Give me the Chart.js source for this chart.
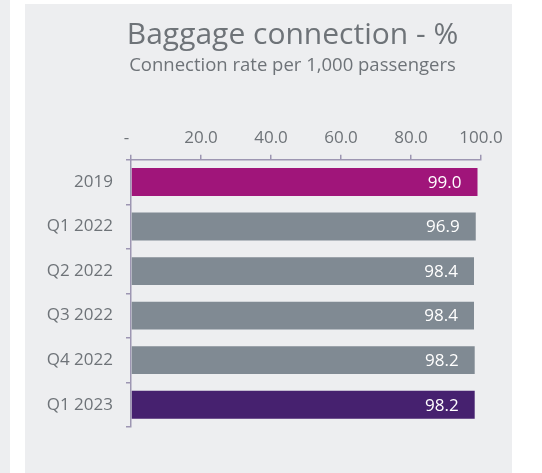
<!DOCTYPE html>
<html>
<head>
<meta charset="utf-8">
<script src="https://cdn.jsdelivr.net/npm/chart.js@4"></script>
<style>
  html, body { margin: 0; padding: 0; background: #fff; }
  body { width: 542px; height: 473px; position: relative; overflow: hidden; }
  .strip { position: absolute; left: 0; top: 0; width: 10px; height: 473px; background: #edeef0; }
  .panel { position: absolute; left: 25px; top: 4px; width: 487px; height: 469px; background: #edeef0; }
</style>
</head>
<body>
<div class="strip"></div>
<div class="panel"><canvas id="chart" width="487" height="469"></canvas></div>
<script>
const categories = ["2019", "Q1 2022", "Q2 2022", "Q3 2022", "Q4 2022", "Q1 2023"];
// bar lengths as drawn in the picture
const barValues = [99.0, 98.5, 98.0, 98.0, 98.2, 98.2];
// numbers printed on the bars
const labelValues = ["99.0", "96.9", "98.4", "98.4", "98.2", "98.2"];
const barColors = ["#a0157a", "#808a93", "#808a93", "#808a93", "#808a93", "#46216f"];
const xTicks = [0, 20, 40, 60, 80, 100];

const textColor = "#6e7378";
const axisColor = "#9d96b2";
const fontFamily = "'Open Sans', 'Noto Sans', sans-serif";

const valueLabels = {
    id: "valueLabels",
    afterDatasetsDraw(chart) {
        const ctx = chart.ctx;
        const meta = chart.getDatasetMeta(0);
        ctx.save();
        ctx.fillStyle = "#ffffff";
        ctx.font = `17px ${fontFamily}`;
        ctx.textAlign = "right";
        ctx.textBaseline = "middle";
        meta.data.forEach((bar, i) => {
            ctx.fillText(labelValues[i], bar.x - 16, bar.y + 1);
        });
        ctx.restore();
    }
};

// let the category labels use the space left of the narrow y axis box
const widenLabels = {
    id: "widenLabels",
    afterLayout(chart) {
        chart.scales.y.left = 0;
    }
};

new Chart(document.getElementById("chart"), {
    type: "bar",
    data: {
        labels: categories,
        datasets: [{
            data: barValues,
            backgroundColor: barColors,
            borderWidth: 0,
            barPercentage: 1,
            categoryPercentage: 0.625
        }]
    },
    options: {
        indexAxis: "y",
        responsive: false,
        animation: false,
        layout: { padding: { left: 79, right: 31, top: 0, bottom: 46 } },
        plugins: {
            legend: { display: false },
            tooltip: { enabled: false },
            title: {
                display: true,
                text: "Baggage connection - %",
                color: textColor,
                font: { family: fontFamily, size: 30, weight: "normal" },
                padding: { top: 13, bottom: 0 }
            },
            subtitle: {
                display: true,
                text: "Connection rate per 1,000 passengers",
                color: textColor,
                font: { family: fontFamily, size: 18.5, weight: "normal" },
                padding: { top: 2, bottom: 0 }
            }
        },
        scales: {
            x: {
                position: "top",
                min: 0,
                max: 100,
                afterBuildTicks: axis => { axis.ticks = xTicks.map(v => ({ value: v })); },
                afterFit: axis => { axis.height = 82.5; },
                ticks: {
                    color: textColor,
                    font: { family: fontFamily, size: 17 },
                    padding: 6.5,
                    maxRotation: 0,
                    callback: v => v === 0 ? "-  " : v.toFixed(1)
                },
                grid: { drawOnChartArea: false, drawTicks: true, tickLength: 5, color: axisColor, lineWidth: 1.5 },
                border: { color: axisColor, width: 1.5 }
            },
            y: {
                afterFit: axis => { axis.width = 27; },
                ticks: {
                    color: textColor,
                    font: { family: fontFamily, size: 17 },
                    padding: 13
                },
                grid: { drawOnChartArea: false, drawTicks: true, tickLength: 5, color: axisColor, lineWidth: 1.5 },
                border: { color: axisColor, width: 1.5 }
            }
        }
    },
    plugins: [valueLabels, widenLabels]
});
</script>
</body>
</html>
